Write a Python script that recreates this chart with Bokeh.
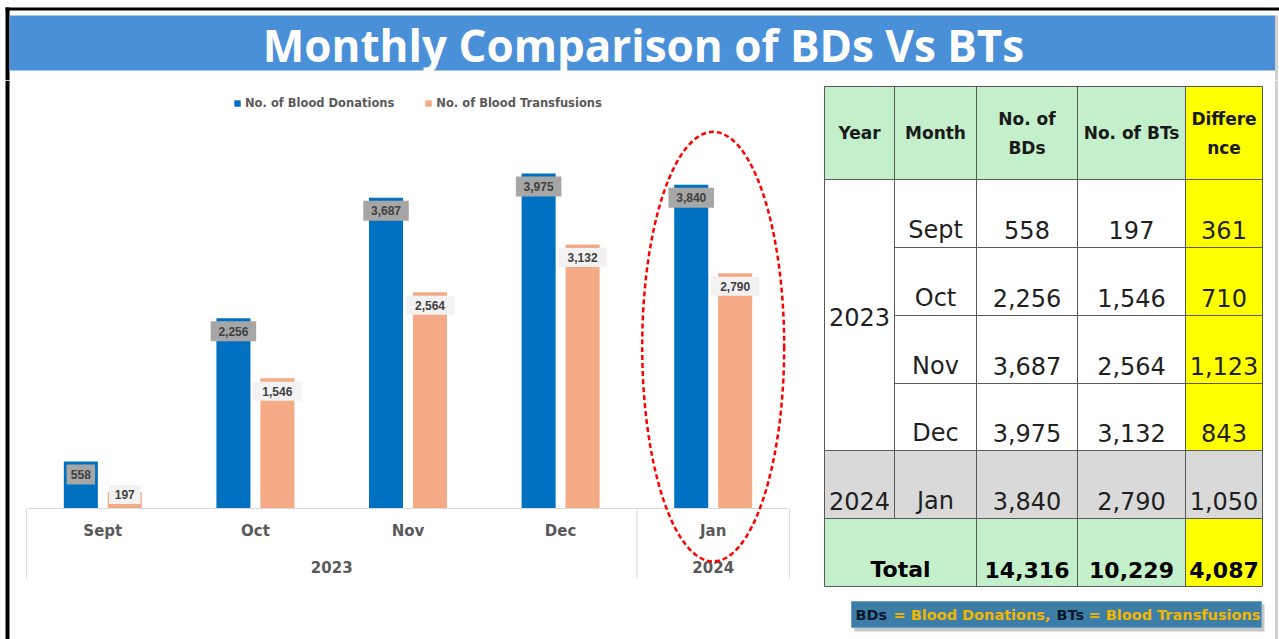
from bokeh.plotting import figure
from bokeh.models import (FactorRange, Range1d, ColumnDataSource, Legend, LegendItem, BoxAnnotation)
from bokeh.transform import dodge
from bokeh.layouts import column, row
from bokeh.core.properties import value
from bokeh.embed import file_html
from bokeh.resources import INLINE

# ---------------- data ----------------
title_text = "Monthly Comparison of BDs Vs BTs"
years = ["2023", "2023", "2023", "2023", "2024"]
months = ["Sept", "Oct", "Nov", "Dec", "Jan"]
blood_donations = [558, 2256, 3687, 3975, 3840]
blood_transfusions = [197, 1546, 2564, 3132, 2790]
series_names = ["No. of Blood Donations", "No. of Blood Transfusions"]
table_headers = ["Year", "Month", "No. of\nBDs", "No. of BTs", "Differe\nnce"]
total_label = "Total"
footnote_parts = ["BDs", "= Blood Donations,", "BTs", "= Blood Transfusions"]

differences = [a - b for a, b in zip(blood_donations, blood_transfusions)]
totals = [sum(blood_donations), sum(blood_transfusions), sum(differences)]

def fmt(v):
    return f"{v:,}"

# ---------------- styles ----------------
BLUE = "#0070c0"
ORANGE = "#f4aa84"
TXT = "#404040"
AX_TXT = "#595959"
GREEN = "#c3efca"
YELLOW = "#ffff00"
GRAY = "#d9d9d9"
F_BODY = value("DejaVu Sans")
TOP = 80          # height of the title strip
PAGE_H = 639

def base_fig(w, h, xr, yr):
    f = figure(width=w, height=h, x_range=xr, y_range=yr, output_backend="svg",
               toolbar_location=None, x_axis_location=None, y_axis_location=None,
               min_border=0, title=None, outline_line_color=None,
               background_fill_color="white", border_fill_color="white")
    f.xgrid.visible = False
    f.ygrid.visible = False
    return f

# ---------------- title strip ----------------
t = base_fig(1279, TOP, Range1d(0, 1279), Range1d(TOP, 0))
t.quad(left=[5], right=[1279], top=[7], bottom=[10], fill_color="black", line_color=None)
t.quad(left=[5], right=[9], top=[7], bottom=[TOP], fill_color="black", line_color=None)
t.quad(left=[9], right=[1275], top=[15], bottom=[70], fill_color="#4a90d9", line_color=None)
t.segment(x0=[1276], y0=[15], x1=[1276], y1=[TOP], line_color="#d0d0d0", line_width=3)
t.text(x=[643], y=[44], text=[title_text], text_align="center", text_baseline="middle",
       text_font=value("Open Sans"), text_font_style="bold", text_font_size="44px",
       text_color="white")

# ---------------- chart ----------------
H = PAGE_H - TOP
PX = 0.0843            # pixels per unit
UPP = 1.0 / PX         # units per pixel
BASE = 508 - TOP       # baseline, px from top of chart figure
p = base_fig(815, H, FactorRange(*months, range_padding=0.06816),
             Range1d(-(H - BASE) * UPP, BASE * UPP))

def label_y(v):
    return max(v - 13 * UPP, 14 * UPP)

src = ColumnDataSource(dict(
    month=months,
    bd=blood_donations,
    bt=blood_transfusions,
    bd_label=[fmt(v) for v in blood_donations],
    bt_label=[fmt(v) for v in blood_transfusions],
    bd_ly=[label_y(v) for v in blood_donations],
    bt_ly=[label_y(v) for v in blood_transfusions],
    bd_lw=[8.5 * len(fmt(v)) + 3 for v in blood_donations],
    bt_lw=[8.5 * len(fmt(v)) + 6 for v in blood_transfusions],
))

OFF = 0.144
BW = 0.223
r1 = p.vbar(x=dodge("month", -OFF, range=p.x_range), top="bd", width=BW, source=src,
            fill_color=BLUE, line_color=None)
r2 = p.vbar(x=dodge("month", OFF, range=p.x_range), top="bt", width=BW, source=src,
            fill_color=ORANGE, line_color=None)

p.rect(x=dodge("month", -OFF, range=p.x_range), y="bd_ly", width="bd_lw", height=20,
       width_units="screen", height_units="screen", source=src,
       fill_color="#a6a6a6", line_color=None)
p.rect(x=dodge("month", OFF, range=p.x_range), y="bt_ly", width="bt_lw", height=19,
       width_units="screen", height_units="screen", source=src,
       fill_color="#f2f2f2", line_color=None)
for key, lab, off in (("bd_ly", "bd_label", -OFF), ("bt_ly", "bt_label", OFF)):
    p.text(x=dodge("month", off, range=p.x_range), y=key, text=lab, source=src,
           text_align="center", text_baseline="middle",
           text_font=value("Liberation Sans"), text_font_style="bold",
           text_font_size="12px", text_color=TXT)

# axis box
n = len(months)
p.segment(x0=[(months[0], -0.5)], y0=[0], x1=[(months[-1], 0.5)], y1=[0],
          line_color=GRAY, line_width=1)
bounds = [(months[0], -0.5)]
bounds += [(months[i], -0.5) for i in range(1, n) if years[i] != years[i - 1]]
bounds += [(months[-1], 0.5)]
p.segment(x0=bounds, y0=[0] * len(bounds), x1=bounds, y1=[-70 * UPP] * len(bounds),
          line_color=GRAY, line_width=1)
p.text(x=months, y=[-22 * UPP] * n, text=months, text_align="center", text_baseline="middle",
       text_font=F_BODY, text_font_style="bold", text_font_size="15px", text_color=AX_TXT)

groups = []
i0 = 0
for i in range(1, n + 1):
    if i == n or years[i] != years[i0]:
        groups.append((years[i0], i0, i - 1))
        i0 = i
p.text(x=[(months[a], (b - a) / 2) for _, a, b in groups], y=[-58 * UPP] * len(groups),
       text=[g[0] for g in groups], text_align="center", text_baseline="middle",
       text_font=F_BODY, text_font_style="bold", text_font_size="15px", text_color=AX_TXT)

# highlight of latest month
p.ellipse(x=[months[-1]], y=[max(blood_donations[-1], blood_transfusions[-1]) / 2],
          width=142, height=430, width_units="screen", height_units="screen",
          fill_color=None, line_color="#ff0000", line_width=2.5, line_dash="5 3")

legend = Legend(items=[LegendItem(label=series_names[0], renderers=[r1]),
                       LegendItem(label=series_names[1], renderers=[r2])],
                orientation="horizontal", location=(233, H - (103 - TOP) - 7),
                padding=0, margin=0,
                spacing=30, label_standoff=4, glyph_width=8, glyph_height=8,
                label_height=14, label_text_font="DejaVu Sans", label_text_font_style="bold",
                label_text_font_size="11.5px", label_text_color=AX_TXT,
                border_line_color=None, background_fill_alpha=0)
p.add_layout(legend)

p.add_layout(BoxAnnotation(left=5, right=9, left_units="screen", right_units="screen",
                           fill_color="black", fill_alpha=1, line_color=None))

# ---------------- table ----------------
tb = base_fig(464, H, Range1d(815, 1279), Range1d(PAGE_H, TOP))
COLS = [824, 894, 976, 1077, 1185, 1262]
ROWS = [86, 179, 247, 315, 383, 450, 518, 586]

L, R, T, B, C = [], [], [], [], []
def cell(c0, c1, r0, r1, color):
    L.append(c0); R.append(c1); T.append(r0); B.append(r1); C.append(color)

for j in range(5):
    cell(COLS[j], COLS[j + 1], ROWS[0], ROWS[1], YELLOW if j == 4 else GREEN)
last_year = years[-1]
for i in range(n):
    latest = years[i] == last_year and years[0] != last_year
    for j in range(5):
        if latest:
            col = GRAY
        else:
            col = YELLOW if j == 4 else "white"
        cell(COLS[j], COLS[j + 1], ROWS[i + 1], ROWS[i + 2], col)
cell(COLS[0], COLS[4], ROWS[-2], ROWS[-1], GREEN)
cell(COLS[4], COLS[5], ROWS[-2], ROWS[-1], YELLOW)
tb.quad(left=L, right=R, top=T, bottom=B, fill_color=C, line_color=None)

# grid lines
x0s, y0s, x1s, y1s = [], [], [], []
def seg(a, b, c, d):
    x0s.append(a); y0s.append(b); x1s.append(c); y1s.append(d)
for k, y in enumerate(ROWS):
    inner = 2 <= k <= n and years[k - 1] == years[k - 2]
    seg(COLS[1] if inner else COLS[0], y, COLS[-1], y)
for k, x in enumerate(COLS):
    seg(x, ROWS[0], x, ROWS[-2] if k == 1 else ROWS[-1])
tb.segment(x0=x0s, y0=y0s, x1=x1s, y1=y1s, line_color="#595959", line_width=1)

cx = [(COLS[j] + COLS[j + 1]) / 2 for j in range(5)]
hy = (ROWS[0] + ROWS[1]) / 2
tb.text(x=cx, y=[hy] * 5, text=table_headers, text_align="center", text_baseline="middle",
        text_font=F_BODY, text_font_style="bold", text_font_size="17px",
        text_color="#1a1a1a", text_line_height=1.45)

vx, vy, vt = [], [], []
for i in range(n):
    ym = ROWS[i + 2] - 18
    for j, s in ((1, months[i]), (2, fmt(blood_donations[i])),
                 (3, fmt(blood_transfusions[i])), (4, fmt(differences[i]))):
        vx.append(cx[j]); vy.append(ym); vt.append(s)
tb.text(x=vx, y=vy, text=vt, text_align="center", text_baseline="middle",
        text_font=F_BODY, text_font_size="24px", text_color="#1f1f1f")

gx, gy, gt = [], [], []
for yr, a, b in groups:
    gx.append(cx[0]); gt.append(yr)
    if b > a:
        gy.append((ROWS[a + 1] + ROWS[b + 2]) / 2 + 2)
    else:
        gy.append(ROWS[b + 2] - 18)
tb.text(x=gx, y=gy, text=gt, text_align="center", text_baseline="middle",
        text_font=F_BODY, text_font_size="24px", text_color="#1f1f1f")

tot_y = ROWS[-1] - 17
tb.text(x=[(COLS[0] + COLS[2]) / 2, cx[2], cx[3], cx[4]], y=[tot_y] * 4,
        text=[total_label] + [fmt(v) for v in totals], text_align="center",
        text_baseline="middle", text_font=F_BODY, text_font_style="bold",
        text_font_size="22px", text_color="black")

# right edge line
tb.segment(x0=[1276], y0=[TOP], x1=[1276], y1=[PAGE_H], line_color="#d0d0d0", line_width=3)

# footnote
tb.quad(left=[854], right=[1264], top=[604], bottom=[631], fill_color="#808080",
        fill_alpha=0.45, line_color=None)
tb.quad(left=[851], right=[1261], top=[601], bottom=[627], fill_color="#3d7ea8",
        line_color="#6f9fbf", line_width=1)
tb.text(x=[855, 893, 1056, 1088], y=[614.5] * 4, text=footnote_parts,
        text_align="left", text_baseline="middle", text_font=F_BODY, text_font_style="bold",
        text_font_size="14.5px", text_color=["#0b1a2b", "#f2b600", "#0b1a2b", "#f2b600"])

layout = column(t, row(p, tb, spacing=0), spacing=0)
open("out.html", "w").write(file_html(layout, INLINE))
